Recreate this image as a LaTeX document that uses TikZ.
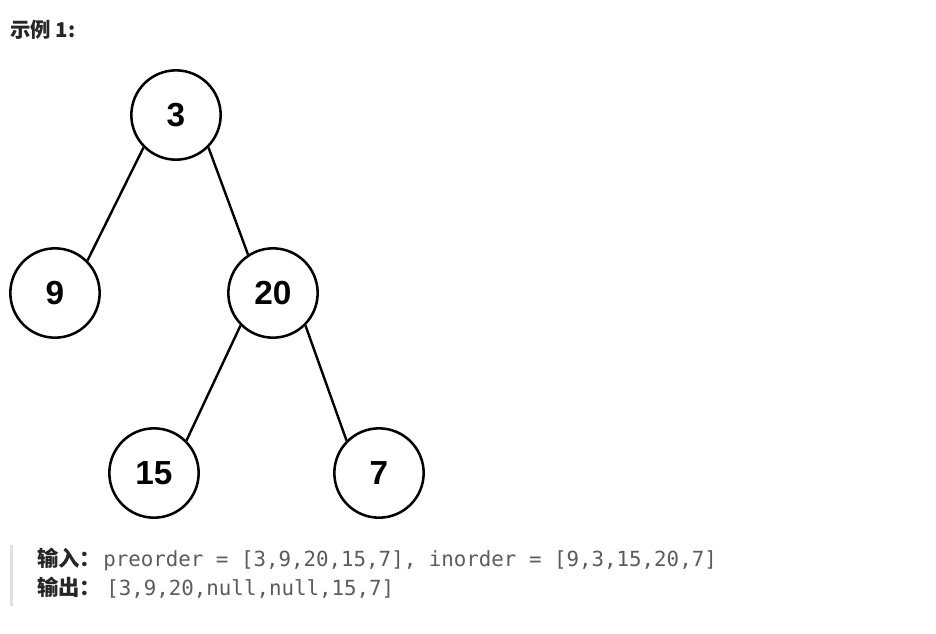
\documentclass[tikz,border=0pt]{standalone}
\usepackage{fontspec}
\setmainfont{Liberation Sans}
\setmonofont{DejaVu Sans Mono}
\newfontfamily\cjk{Noto Sans CJK SC}
\usetikzlibrary{positioning}
\definecolor{Ink}{HTML}{000000}
\definecolor{Label}{HTML}{262626}
\definecolor{Code}{HTML}{5C5C5C}
\definecolor{Rule}{HTML}{E0E0E0}
\tikzset{
  tnode/.style={circle,draw=Ink,line width=1.9pt,minimum size=67pt,inner sep=0pt,font=\fontsize{25}{30}\selectfont\bfseries},
  edge/.style={draw=Ink,line width=1.8pt},
  lbl/.style={anchor=base west,inner sep=0pt,font=\fontsize{16}{19}\selectfont\cjk\bfseries,text=Label},
  code/.style={anchor=base west,inner sep=0pt,font=\fontsize{15.6}{19}\selectfont\ttfamily,text=Code},
}

\begin{document}
\begin{tikzpicture}[x=0.75pt,y=-0.75pt]
\useasboundingbox[fill=white] (0,0) rectangle (936,633);
\node[lbl,font=\fontsize{15.3}{18}\selectfont\cjk\bfseries] (title) at (10,37) {示例 1:};
% tree
\node[tnode] (n3) at (176,115) {3};
\node[tnode] (n9) at (55,293) {9};
\node[tnode] (n20) at (273,293) {20};
\node[tnode] (n15) at (154,473) {15};
\node[tnode] (n7) at (379,473) {7};
\draw[edge] (n3.south west)--(n9.north east); \draw[edge] (n3.south east)--(n20.123);
\draw[edge] (n20.south west)--(n15.north east); \draw[edge] (n20.south east)--(n7.north west);
% example text
\coordinate (bartop) at (11.5,545); \coordinate (barbot) at (11.5,606);
\draw[Rule,line width=2.2pt] (bartop)--(barbot);
\node[lbl] (in) at (37,566) {输入：};
\node[code] (inval) at (103,566) {preorder = [3,9,20,15,7], inorder = [9,3,15,20,7]};
\node[lbl] (out) at (37,595) {输出：};
\node[code] (outval) at (106,595) {[3,9,20,null,null,15,7]};
\end{tikzpicture}
\end{document}
